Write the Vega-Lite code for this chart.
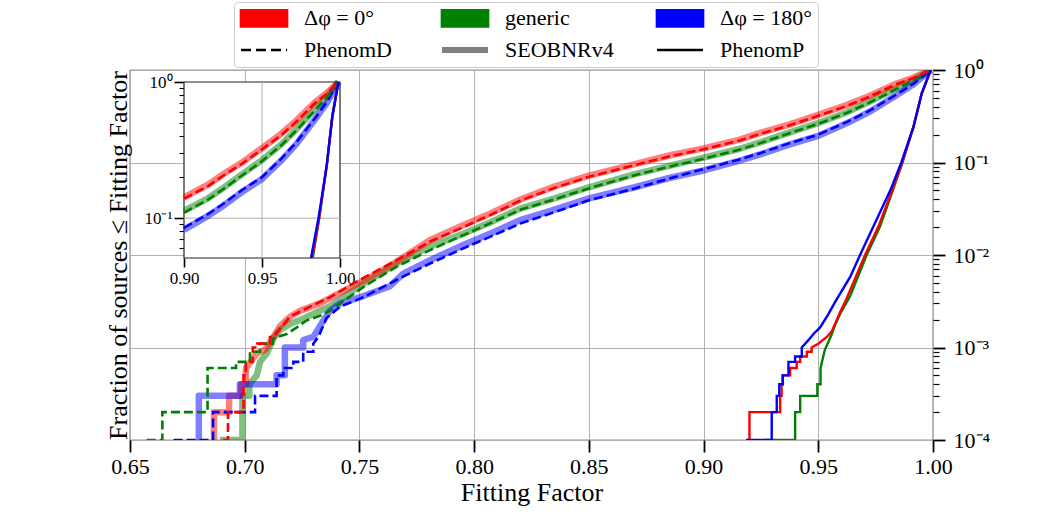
{
  "$schema": "https://vega.github.io/schema/vega-lite/v6.json",
  "width": 803,
  "height": 370,
  "autosize": "none",
  "padding": {"left": 130, "top": 70, "right": 105, "bottom": 79},
  "config": {
    "font": "Liberation Serif",
    "view": {"stroke": "#222222", "strokeWidth": 1.2},
    "axis": {"labelFont": "Liberation Serif", "titleFont": "Liberation Serif", "labelColor": "#000000", "titleColor": "#000000", "tickColor": "#000000", "titleFontWeight": "normal"},
    "legend": {"labelFont": "Liberation Serif"}
  },
  "datasets": {
    "curves": [
      {"c":"generic","m":"SEOBNRv4","i":0,"ff":0.6892,"f":0.0001},
      {"c":"generic","m":"SEOBNRv4","i":1,"ff":0.699,"f":0.0001},
      {"c":"generic","m":"SEOBNRv4","i":2,"ff":0.699,"f":0.0003},
      {"c":"generic","m":"SEOBNRv4","i":3,"ff":0.702,"f":0.0003},
      {"c":"generic","m":"SEOBNRv4","i":4,"ff":0.702,"f":0.0004},
      {"c":"generic","m":"SEOBNRv4","i":5,"ff":0.7052,"f":0.0005},
      {"c":"generic","m":"SEOBNRv4","i":6,"ff":0.7067,"f":0.0007},
      {"c":"generic","m":"SEOBNRv4","i":7,"ff":0.7096,"f":0.00086},
      {"c":"generic","m":"SEOBNRv4","i":8,"ff":0.7125,"f":0.00125},
      {"c":"generic","m":"SEOBNRv4","i":9,"ff":0.7154,"f":0.00155},
      {"c":"generic","m":"SEOBNRv4","i":10,"ff":0.7197,"f":0.0018},
      {"c":"generic","m":"SEOBNRv4","i":11,"ff":0.7255,"f":0.00205},
      {"c":"generic","m":"SEOBNRv4","i":12,"ff":0.7328,"f":0.0025},
      {"c":"generic","m":"SEOBNRv4","i":13,"ff":0.7372,"f":0.0028},
      {"c":"generic","m":"SEOBNRv4","i":14,"ff":0.7517,"f":0.0049},
      {"c":"generic","m":"SEOBNRv4","i":15,"ff":0.7663,"f":0.0081},
      {"c":"generic","m":"SEOBNRv4","i":16,"ff":0.7808,"f":0.0124},
      {"c":"generic","m":"SEOBNRv4","i":17,"ff":0.7953,"f":0.017},
      {"c":"generic","m":"SEOBNRv4","i":18,"ff":0.8069,"f":0.0225},
      {"c":"generic","m":"SEOBNRv4","i":19,"ff":0.8204,"f":0.032},
      {"c":"generic","m":"SEOBNRv4","i":20,"ff":0.835,"f":0.041},
      {"c":"generic","m":"SEOBNRv4","i":21,"ff":0.85,"f":0.054},
      {"c":"generic","m":"SEOBNRv4","i":22,"ff":0.87,"f":0.075},
      {"c":"generic","m":"SEOBNRv4","i":23,"ff":0.885,"f":0.092},
      {"c":"generic","m":"SEOBNRv4","i":24,"ff":0.9,"f":0.113},
      {"c":"generic","m":"SEOBNRv4","i":25,"ff":0.9154,"f":0.14},
      {"c":"generic","m":"SEOBNRv4","i":26,"ff":0.925,"f":0.166},
      {"c":"generic","m":"SEOBNRv4","i":27,"ff":0.9369,"f":0.209},
      {"c":"generic","m":"SEOBNRv4","i":28,"ff":0.95,"f":0.267},
      {"c":"generic","m":"SEOBNRv4","i":29,"ff":0.9626,"f":0.35},
      {"c":"generic","m":"SEOBNRv4","i":30,"ff":0.972,"f":0.45},
      {"c":"generic","m":"SEOBNRv4","i":31,"ff":0.9839,"f":0.63},
      {"c":"generic","m":"SEOBNRv4","i":32,"ff":0.9915,"f":0.78},
      {"c":"generic","m":"SEOBNRv4","i":33,"ff":0.999,"f":1},

      {"c":"Δφ = 0°","m":"SEOBNRv4","i":0,"ff":0.6855,"f":0.0001},
      {"c":"Δφ = 0°","m":"SEOBNRv4","i":1,"ff":0.6866,"f":0.0001},
      {"c":"Δφ = 0°","m":"SEOBNRv4","i":2,"ff":0.6866,"f":0.0002},
      {"c":"Δφ = 0°","m":"SEOBNRv4","i":3,"ff":0.6932,"f":0.0002},
      {"c":"Δφ = 0°","m":"SEOBNRv4","i":4,"ff":0.6932,"f":0.0003},
      {"c":"Δφ = 0°","m":"SEOBNRv4","i":5,"ff":0.6985,"f":0.0003},
      {"c":"Δφ = 0°","m":"SEOBNRv4","i":6,"ff":0.6985,"f":0.0004},
      {"c":"Δφ = 0°","m":"SEOBNRv4","i":7,"ff":0.7005,"f":0.0004},
      {"c":"Δφ = 0°","m":"SEOBNRv4","i":8,"ff":0.7005,"f":0.0006},
      {"c":"Δφ = 0°","m":"SEOBNRv4","i":9,"ff":0.7025,"f":0.0007},
      {"c":"Δφ = 0°","m":"SEOBNRv4","i":10,"ff":0.7052,"f":0.00086},
      {"c":"Δφ = 0°","m":"SEOBNRv4","i":11,"ff":0.709,"f":0.00095},
      {"c":"Δφ = 0°","m":"SEOBNRv4","i":12,"ff":0.7125,"f":0.0013},
      {"c":"Δφ = 0°","m":"SEOBNRv4","i":13,"ff":0.7154,"f":0.0017},
      {"c":"Δφ = 0°","m":"SEOBNRv4","i":14,"ff":0.7197,"f":0.00215},
      {"c":"Δφ = 0°","m":"SEOBNRv4","i":15,"ff":0.7241,"f":0.0025},
      {"c":"Δφ = 0°","m":"SEOBNRv4","i":16,"ff":0.7328,"f":0.003},
      {"c":"Δφ = 0°","m":"SEOBNRv4","i":17,"ff":0.7415,"f":0.0039},
      {"c":"Δφ = 0°","m":"SEOBNRv4","i":18,"ff":0.7532,"f":0.0055},
      {"c":"Δφ = 0°","m":"SEOBNRv4","i":19,"ff":0.7633,"f":0.0076},
      {"c":"Δφ = 0°","m":"SEOBNRv4","i":20,"ff":0.7808,"f":0.0145},
      {"c":"Δφ = 0°","m":"SEOBNRv4","i":21,"ff":0.7952,"f":0.021},
      {"c":"Δφ = 0°","m":"SEOBNRv4","i":22,"ff":0.8069,"f":0.028},
      {"c":"Δφ = 0°","m":"SEOBNRv4","i":23,"ff":0.8204,"f":0.04},
      {"c":"Δφ = 0°","m":"SEOBNRv4","i":24,"ff":0.835,"f":0.055},
      {"c":"Δφ = 0°","m":"SEOBNRv4","i":25,"ff":0.85,"f":0.072},
      {"c":"Δφ = 0°","m":"SEOBNRv4","i":26,"ff":0.87,"f":0.096},
      {"c":"Δφ = 0°","m":"SEOBNRv4","i":27,"ff":0.885,"f":0.119},
      {"c":"Δφ = 0°","m":"SEOBNRv4","i":28,"ff":0.9,"f":0.142},
      {"c":"Δφ = 0°","m":"SEOBNRv4","i":29,"ff":0.9154,"f":0.176},
      {"c":"Δφ = 0°","m":"SEOBNRv4","i":30,"ff":0.925,"f":0.21},
      {"c":"Δφ = 0°","m":"SEOBNRv4","i":31,"ff":0.9369,"f":0.255},
      {"c":"Δφ = 0°","m":"SEOBNRv4","i":32,"ff":0.95,"f":0.327},
      {"c":"Δφ = 0°","m":"SEOBNRv4","i":33,"ff":0.9626,"f":0.42},
      {"c":"Δφ = 0°","m":"SEOBNRv4","i":34,"ff":0.972,"f":0.52},
      {"c":"Δφ = 0°","m":"SEOBNRv4","i":35,"ff":0.9839,"f":0.71},
      {"c":"Δφ = 0°","m":"SEOBNRv4","i":36,"ff":0.9915,"f":0.83},
      {"c":"Δφ = 0°","m":"SEOBNRv4","i":37,"ff":0.999,"f":1},

      {"c":"Δφ = 180°","m":"SEOBNRv4","i":0,"ff":0.6795,"f":0.0001},
      {"c":"Δφ = 180°","m":"SEOBNRv4","i":1,"ff":0.68,"f":0.0001},
      {"c":"Δφ = 180°","m":"SEOBNRv4","i":2,"ff":0.68,"f":0.0003},
      {"c":"Δφ = 180°","m":"SEOBNRv4","i":3,"ff":0.6979,"f":0.0003},
      {"c":"Δφ = 180°","m":"SEOBNRv4","i":4,"ff":0.6979,"f":0.0004},
      {"c":"Δφ = 180°","m":"SEOBNRv4","i":5,"ff":0.7139,"f":0.0004},
      {"c":"Δφ = 180°","m":"SEOBNRv4","i":6,"ff":0.7139,"f":0.0005},
      {"c":"Δφ = 180°","m":"SEOBNRv4","i":7,"ff":0.7175,"f":0.0005},
      {"c":"Δφ = 180°","m":"SEOBNRv4","i":8,"ff":0.7175,"f":0.001},
      {"c":"Δφ = 180°","m":"SEOBNRv4","i":9,"ff":0.7255,"f":0.001},
      {"c":"Δφ = 180°","m":"SEOBNRv4","i":10,"ff":0.7255,"f":0.0012},
      {"c":"Δφ = 180°","m":"SEOBNRv4","i":11,"ff":0.7299,"f":0.0013},
      {"c":"Δφ = 180°","m":"SEOBNRv4","i":12,"ff":0.7343,"f":0.00196},
      {"c":"Δφ = 180°","m":"SEOBNRv4","i":13,"ff":0.7372,"f":0.0025},
      {"c":"Δφ = 180°","m":"SEOBNRv4","i":14,"ff":0.7415,"f":0.00298},
      {"c":"Δφ = 180°","m":"SEOBNRv4","i":15,"ff":0.7517,"f":0.0036},
      {"c":"Δφ = 180°","m":"SEOBNRv4","i":16,"ff":0.7633,"f":0.0046},
      {"c":"Δφ = 180°","m":"SEOBNRv4","i":17,"ff":0.7691,"f":0.0063},
      {"c":"Δφ = 180°","m":"SEOBNRv4","i":18,"ff":0.7808,"f":0.0088},
      {"c":"Δφ = 180°","m":"SEOBNRv4","i":19,"ff":0.7953,"f":0.0128},
      {"c":"Δφ = 180°","m":"SEOBNRv4","i":20,"ff":0.8069,"f":0.017},
      {"c":"Δφ = 180°","m":"SEOBNRv4","i":21,"ff":0.8204,"f":0.024},
      {"c":"Δφ = 180°","m":"SEOBNRv4","i":22,"ff":0.835,"f":0.031},
      {"c":"Δφ = 180°","m":"SEOBNRv4","i":23,"ff":0.85,"f":0.041},
      {"c":"Δφ = 180°","m":"SEOBNRv4","i":24,"ff":0.87,"f":0.054},
      {"c":"Δφ = 180°","m":"SEOBNRv4","i":25,"ff":0.885,"f":0.068},
      {"c":"Δφ = 180°","m":"SEOBNRv4","i":26,"ff":0.9,"f":0.082},
      {"c":"Δφ = 180°","m":"SEOBNRv4","i":27,"ff":0.9154,"f":0.104},
      {"c":"Δφ = 180°","m":"SEOBNRv4","i":28,"ff":0.925,"f":0.123},
      {"c":"Δφ = 180°","m":"SEOBNRv4","i":29,"ff":0.9369,"f":0.155},
      {"c":"Δφ = 180°","m":"SEOBNRv4","i":30,"ff":0.95,"f":0.194},
      {"c":"Δφ = 180°","m":"SEOBNRv4","i":31,"ff":0.9626,"f":0.267},
      {"c":"Δφ = 180°","m":"SEOBNRv4","i":32,"ff":0.972,"f":0.35},
      {"c":"Δφ = 180°","m":"SEOBNRv4","i":33,"ff":0.9839,"f":0.53},
      {"c":"Δφ = 180°","m":"SEOBNRv4","i":34,"ff":0.9915,"f":0.7},
      {"c":"Δφ = 180°","m":"SEOBNRv4","i":35,"ff":0.999,"f":1},

      {"c":"Δφ = 180°","m":"PhenomD","i":0,"ff":0.669,"f":0.0001},
      {"c":"Δφ = 180°","m":"PhenomD","i":1,"ff":0.6862,"f":0.0001},
      {"c":"Δφ = 180°","m":"PhenomD","i":2,"ff":0.6862,"f":0.0002},
      {"c":"Δφ = 180°","m":"PhenomD","i":3,"ff":0.7045,"f":0.0002},
      {"c":"Δφ = 180°","m":"PhenomD","i":4,"ff":0.7045,"f":0.0003},
      {"c":"Δφ = 180°","m":"PhenomD","i":5,"ff":0.7139,"f":0.0003},
      {"c":"Δφ = 180°","m":"PhenomD","i":6,"ff":0.7139,"f":0.0005},
      {"c":"Δφ = 180°","m":"PhenomD","i":7,"ff":0.7168,"f":0.0005},
      {"c":"Δφ = 180°","m":"PhenomD","i":8,"ff":0.7168,"f":0.0006},
      {"c":"Δφ = 180°","m":"PhenomD","i":9,"ff":0.7212,"f":0.0006},
      {"c":"Δφ = 180°","m":"PhenomD","i":10,"ff":0.7212,"f":0.0007},
      {"c":"Δφ = 180°","m":"PhenomD","i":11,"ff":0.7255,"f":0.0007},
      {"c":"Δφ = 180°","m":"PhenomD","i":12,"ff":0.7255,"f":0.0009},
      {"c":"Δφ = 180°","m":"PhenomD","i":13,"ff":0.7299,"f":0.0009},
      {"c":"Δφ = 180°","m":"PhenomD","i":14,"ff":0.7299,"f":0.0011},
      {"c":"Δφ = 180°","m":"PhenomD","i":15,"ff":0.7321,"f":0.0013},
      {"c":"Δφ = 180°","m":"PhenomD","i":16,"ff":0.7357,"f":0.0021},
      {"c":"Δφ = 180°","m":"PhenomD","i":17,"ff":0.7415,"f":0.00275},
      {"c":"Δφ = 180°","m":"PhenomD","i":18,"ff":0.7517,"f":0.0035},
      {"c":"Δφ = 180°","m":"PhenomD","i":19,"ff":0.7663,"f":0.0054},
      {"c":"Δφ = 180°","m":"PhenomD","i":20,"ff":0.7808,"f":0.0081},
      {"c":"Δφ = 180°","m":"PhenomD","i":21,"ff":0.7953,"f":0.0118},
      {"c":"Δφ = 180°","m":"PhenomD","i":22,"ff":0.8069,"f":0.0157},
      {"c":"Δφ = 180°","m":"PhenomD","i":23,"ff":0.8204,"f":0.022},
      {"c":"Δφ = 180°","m":"PhenomD","i":24,"ff":0.835,"f":0.029},
      {"c":"Δφ = 180°","m":"PhenomD","i":25,"ff":0.85,"f":0.039},
      {"c":"Δφ = 180°","m":"PhenomD","i":26,"ff":0.87,"f":0.0525},
      {"c":"Δφ = 180°","m":"PhenomD","i":27,"ff":0.885,"f":0.067},
      {"c":"Δφ = 180°","m":"PhenomD","i":28,"ff":0.9,"f":0.085},
      {"c":"Δφ = 180°","m":"PhenomD","i":29,"ff":0.9154,"f":0.107},
      {"c":"Δφ = 180°","m":"PhenomD","i":30,"ff":0.925,"f":0.127},
      {"c":"Δφ = 180°","m":"PhenomD","i":31,"ff":0.9369,"f":0.16},
      {"c":"Δφ = 180°","m":"PhenomD","i":32,"ff":0.95,"f":0.2},
      {"c":"Δφ = 180°","m":"PhenomD","i":33,"ff":0.9626,"f":0.275},
      {"c":"Δφ = 180°","m":"PhenomD","i":34,"ff":0.972,"f":0.36},
      {"c":"Δφ = 180°","m":"PhenomD","i":35,"ff":0.9839,"f":0.54},
      {"c":"Δφ = 180°","m":"PhenomD","i":36,"ff":0.9915,"f":0.71},
      {"c":"Δφ = 180°","m":"PhenomD","i":37,"ff":0.999,"f":1},

      {"c":"generic","m":"PhenomD","i":0,"ff":0.6573,"f":0.0001},
      {"c":"generic","m":"PhenomD","i":1,"ff":0.6641,"f":0.0001},
      {"c":"generic","m":"PhenomD","i":2,"ff":0.6641,"f":0.0002},
      {"c":"generic","m":"PhenomD","i":3,"ff":0.6838,"f":0.0002},
      {"c":"generic","m":"PhenomD","i":4,"ff":0.6838,"f":0.0006},
      {"c":"generic","m":"PhenomD","i":5,"ff":0.6962,"f":0.0006},
      {"c":"generic","m":"PhenomD","i":6,"ff":0.6962,"f":0.0007},
      {"c":"generic","m":"PhenomD","i":7,"ff":0.7023,"f":0.0007},
      {"c":"generic","m":"PhenomD","i":8,"ff":0.7023,"f":0.0009},
      {"c":"generic","m":"PhenomD","i":9,"ff":0.7067,"f":0.0009},
      {"c":"generic","m":"PhenomD","i":10,"ff":0.7067,"f":0.0011},
      {"c":"generic","m":"PhenomD","i":11,"ff":0.7123,"f":0.0011},
      {"c":"generic","m":"PhenomD","i":12,"ff":0.7123,"f":0.00125},
      {"c":"generic","m":"PhenomD","i":13,"ff":0.7183,"f":0.0014},
      {"c":"generic","m":"PhenomD","i":14,"ff":0.7227,"f":0.00165},
      {"c":"generic","m":"PhenomD","i":15,"ff":0.727,"f":0.00196},
      {"c":"generic","m":"PhenomD","i":16,"ff":0.7328,"f":0.0022},
      {"c":"generic","m":"PhenomD","i":17,"ff":0.7372,"f":0.0025},
      {"c":"generic","m":"PhenomD","i":18,"ff":0.7517,"f":0.0045},
      {"c":"generic","m":"PhenomD","i":19,"ff":0.7663,"f":0.0075},
      {"c":"generic","m":"PhenomD","i":20,"ff":0.7808,"f":0.0113},
      {"c":"generic","m":"PhenomD","i":21,"ff":0.7953,"f":0.0164},
      {"c":"generic","m":"PhenomD","i":22,"ff":0.8069,"f":0.022},
      {"c":"generic","m":"PhenomD","i":23,"ff":0.8204,"f":0.031},
      {"c":"generic","m":"PhenomD","i":24,"ff":0.835,"f":0.04},
      {"c":"generic","m":"PhenomD","i":25,"ff":0.85,"f":0.0525},
      {"c":"generic","m":"PhenomD","i":26,"ff":0.87,"f":0.073},
      {"c":"generic","m":"PhenomD","i":27,"ff":0.885,"f":0.09},
      {"c":"generic","m":"PhenomD","i":28,"ff":0.9,"f":0.11},
      {"c":"generic","m":"PhenomD","i":29,"ff":0.9154,"f":0.137},
      {"c":"generic","m":"PhenomD","i":30,"ff":0.925,"f":0.163},
      {"c":"generic","m":"PhenomD","i":31,"ff":0.9369,"f":0.205},
      {"c":"generic","m":"PhenomD","i":32,"ff":0.95,"f":0.262},
      {"c":"generic","m":"PhenomD","i":33,"ff":0.9626,"f":0.345},
      {"c":"generic","m":"PhenomD","i":34,"ff":0.972,"f":0.44},
      {"c":"generic","m":"PhenomD","i":35,"ff":0.9839,"f":0.62},
      {"c":"generic","m":"PhenomD","i":36,"ff":0.9915,"f":0.77},
      {"c":"generic","m":"PhenomD","i":37,"ff":0.999,"f":1},

      {"c":"Δφ = 0°","m":"PhenomD","i":0,"ff":0.6905,"f":0.0001},
      {"c":"Δφ = 0°","m":"PhenomD","i":1,"ff":0.6927,"f":0.0001},
      {"c":"Δφ = 0°","m":"PhenomD","i":2,"ff":0.6927,"f":0.0002},
      {"c":"Δφ = 0°","m":"PhenomD","i":3,"ff":0.6995,"f":0.0002},
      {"c":"Δφ = 0°","m":"PhenomD","i":4,"ff":0.6995,"f":0.0005},
      {"c":"Δφ = 0°","m":"PhenomD","i":5,"ff":0.7005,"f":0.0005},
      {"c":"Δφ = 0°","m":"PhenomD","i":6,"ff":0.7005,"f":0.0007},
      {"c":"Δφ = 0°","m":"PhenomD","i":7,"ff":0.7035,"f":0.0007},
      {"c":"Δφ = 0°","m":"PhenomD","i":8,"ff":0.7035,"f":0.001},
      {"c":"Δφ = 0°","m":"PhenomD","i":9,"ff":0.7055,"f":0.001},
      {"c":"Δφ = 0°","m":"PhenomD","i":10,"ff":0.7055,"f":0.0011},
      {"c":"Δφ = 0°","m":"PhenomD","i":11,"ff":0.711,"f":0.0011},
      {"c":"Δφ = 0°","m":"PhenomD","i":12,"ff":0.711,"f":0.0013},
      {"c":"Δφ = 0°","m":"PhenomD","i":13,"ff":0.7124,"f":0.0013},
      {"c":"Δφ = 0°","m":"PhenomD","i":14,"ff":0.7197,"f":0.00215},
      {"c":"Δφ = 0°","m":"PhenomD","i":15,"ff":0.7248,"f":0.0025},
      {"c":"Δφ = 0°","m":"PhenomD","i":16,"ff":0.7372,"f":0.0035},
      {"c":"Δφ = 0°","m":"PhenomD","i":17,"ff":0.7503,"f":0.0054},
      {"c":"Δφ = 0°","m":"PhenomD","i":18,"ff":0.7663,"f":0.0088},
      {"c":"Δφ = 0°","m":"PhenomD","i":19,"ff":0.7808,"f":0.014},
      {"c":"Δφ = 0°","m":"PhenomD","i":20,"ff":0.7952,"f":0.02},
      {"c":"Δφ = 0°","m":"PhenomD","i":21,"ff":0.8069,"f":0.027},
      {"c":"Δφ = 0°","m":"PhenomD","i":22,"ff":0.8204,"f":0.039},
      {"c":"Δφ = 0°","m":"PhenomD","i":23,"ff":0.835,"f":0.053},
      {"c":"Δφ = 0°","m":"PhenomD","i":24,"ff":0.85,"f":0.07},
      {"c":"Δφ = 0°","m":"PhenomD","i":25,"ff":0.87,"f":0.094},
      {"c":"Δφ = 0°","m":"PhenomD","i":26,"ff":0.885,"f":0.116},
      {"c":"Δφ = 0°","m":"PhenomD","i":27,"ff":0.9,"f":0.139},
      {"c":"Δφ = 0°","m":"PhenomD","i":28,"ff":0.9154,"f":0.172},
      {"c":"Δφ = 0°","m":"PhenomD","i":29,"ff":0.925,"f":0.205},
      {"c":"Δφ = 0°","m":"PhenomD","i":30,"ff":0.9369,"f":0.25},
      {"c":"Δφ = 0°","m":"PhenomD","i":31,"ff":0.95,"f":0.32},
      {"c":"Δφ = 0°","m":"PhenomD","i":32,"ff":0.9626,"f":0.41},
      {"c":"Δφ = 0°","m":"PhenomD","i":33,"ff":0.972,"f":0.51},
      {"c":"Δφ = 0°","m":"PhenomD","i":34,"ff":0.9839,"f":0.7},
      {"c":"Δφ = 0°","m":"PhenomD","i":35,"ff":0.9915,"f":0.82},
      {"c":"Δφ = 0°","m":"PhenomD","i":36,"ff":0.999,"f":1},

      {"c":"generic","m":"PhenomP","i":0,"ff":0.9265,"f":0.0001},
      {"c":"generic","m":"PhenomP","i":1,"ff":0.9399,"f":0.0001},
      {"c":"generic","m":"PhenomP","i":2,"ff":0.9399,"f":0.0002},
      {"c":"generic","m":"PhenomP","i":3,"ff":0.9421,"f":0.0002},
      {"c":"generic","m":"PhenomP","i":4,"ff":0.9421,"f":0.0003},
      {"c":"generic","m":"PhenomP","i":5,"ff":0.9496,"f":0.0003},
      {"c":"generic","m":"PhenomP","i":6,"ff":0.9496,"f":0.0004},
      {"c":"generic","m":"PhenomP","i":7,"ff":0.951,"f":0.0004},
      {"c":"generic","m":"PhenomP","i":8,"ff":0.951,"f":0.0006},
      {"c":"generic","m":"PhenomP","i":9,"ff":0.9519,"f":0.00075},
      {"c":"generic","m":"PhenomP","i":10,"ff":0.9529,"f":0.00095},
      {"c":"generic","m":"PhenomP","i":11,"ff":0.9544,"f":0.00115},
      {"c":"generic","m":"PhenomP","i":12,"ff":0.9559,"f":0.0014},
      {"c":"generic","m":"PhenomP","i":13,"ff":0.9573,"f":0.00175},
      {"c":"generic","m":"PhenomP","i":14,"ff":0.9595,"f":0.0023},
      {"c":"generic","m":"PhenomP","i":15,"ff":0.9624,"f":0.0031},
      {"c":"generic","m":"PhenomP","i":16,"ff":0.9639,"f":0.0036},
      {"c":"generic","m":"PhenomP","i":17,"ff":0.9711,"f":0.01},
      {"c":"generic","m":"PhenomP","i":18,"ff":0.9769,"f":0.0203},
      {"c":"generic","m":"PhenomP","i":19,"ff":0.9825,"f":0.05},
      {"c":"generic","m":"PhenomP","i":20,"ff":0.9867,"f":0.1},
      {"c":"generic","m":"PhenomP","i":21,"ff":0.9915,"f":0.244},
      {"c":"generic","m":"PhenomP","i":22,"ff":0.9951,"f":0.56},
      {"c":"generic","m":"PhenomP","i":23,"ff":0.999,"f":1},

      {"c":"Δφ = 0°","m":"PhenomP","i":0,"ff":0.9193,"f":0.0001},
      {"c":"Δφ = 0°","m":"PhenomP","i":1,"ff":0.92,"f":0.0001},
      {"c":"Δφ = 0°","m":"PhenomP","i":2,"ff":0.92,"f":0.0002},
      {"c":"Δφ = 0°","m":"PhenomP","i":3,"ff":0.9334,"f":0.0002},
      {"c":"Δφ = 0°","m":"PhenomP","i":4,"ff":0.9334,"f":0.0003},
      {"c":"Δφ = 0°","m":"PhenomP","i":5,"ff":0.934,"f":0.0003},
      {"c":"Δφ = 0°","m":"PhenomP","i":6,"ff":0.934,"f":0.0004},
      {"c":"Δφ = 0°","m":"PhenomP","i":7,"ff":0.9345,"f":0.0004},
      {"c":"Δφ = 0°","m":"PhenomP","i":8,"ff":0.9345,"f":0.0005},
      {"c":"Δφ = 0°","m":"PhenomP","i":9,"ff":0.9377,"f":0.0005},
      {"c":"Δφ = 0°","m":"PhenomP","i":10,"ff":0.9377,"f":0.0006},
      {"c":"Δφ = 0°","m":"PhenomP","i":11,"ff":0.9406,"f":0.0006},
      {"c":"Δφ = 0°","m":"PhenomP","i":12,"ff":0.9406,"f":0.0007},
      {"c":"Δφ = 0°","m":"PhenomP","i":13,"ff":0.9421,"f":0.0007},
      {"c":"Δφ = 0°","m":"PhenomP","i":14,"ff":0.9421,"f":0.0008},
      {"c":"Δφ = 0°","m":"PhenomP","i":15,"ff":0.945,"f":0.0008},
      {"c":"Δφ = 0°","m":"PhenomP","i":16,"ff":0.945,"f":0.0009},
      {"c":"Δφ = 0°","m":"PhenomP","i":17,"ff":0.9471,"f":0.0009},
      {"c":"Δφ = 0°","m":"PhenomP","i":18,"ff":0.9471,"f":0.001},
      {"c":"Δφ = 0°","m":"PhenomP","i":19,"ff":0.95,"f":0.0011},
      {"c":"Δφ = 0°","m":"PhenomP","i":20,"ff":0.9537,"f":0.0013},
      {"c":"Δφ = 0°","m":"PhenomP","i":21,"ff":0.9559,"f":0.0015},
      {"c":"Δφ = 0°","m":"PhenomP","i":22,"ff":0.9573,"f":0.0018},
      {"c":"Δφ = 0°","m":"PhenomP","i":23,"ff":0.9595,"f":0.0024},
      {"c":"Δφ = 0°","m":"PhenomP","i":24,"ff":0.9624,"f":0.0034},
      {"c":"Δφ = 0°","m":"PhenomP","i":25,"ff":0.9704,"f":0.01},
      {"c":"Δφ = 0°","m":"PhenomP","i":26,"ff":0.9762,"f":0.0203},
      {"c":"Δφ = 0°","m":"PhenomP","i":27,"ff":0.9822,"f":0.05},
      {"c":"Δφ = 0°","m":"PhenomP","i":28,"ff":0.9866,"f":0.1},
      {"c":"Δφ = 0°","m":"PhenomP","i":29,"ff":0.9915,"f":0.244},
      {"c":"Δφ = 0°","m":"PhenomP","i":30,"ff":0.9951,"f":0.56},
      {"c":"Δφ = 0°","m":"PhenomP","i":31,"ff":0.999,"f":1},

      {"c":"Δφ = 180°","m":"PhenomP","i":0,"ff":0.9185,"f":0.0001},
      {"c":"Δφ = 180°","m":"PhenomP","i":1,"ff":0.9297,"f":0.0001},
      {"c":"Δφ = 180°","m":"PhenomP","i":2,"ff":0.9297,"f":0.0002},
      {"c":"Δφ = 180°","m":"PhenomP","i":3,"ff":0.9319,"f":0.0002},
      {"c":"Δφ = 180°","m":"PhenomP","i":4,"ff":0.9319,"f":0.0003},
      {"c":"Δφ = 180°","m":"PhenomP","i":5,"ff":0.933,"f":0.0003},
      {"c":"Δφ = 180°","m":"PhenomP","i":6,"ff":0.933,"f":0.0004},
      {"c":"Δφ = 180°","m":"PhenomP","i":7,"ff":0.9345,"f":0.0004},
      {"c":"Δφ = 180°","m":"PhenomP","i":8,"ff":0.9345,"f":0.0005},
      {"c":"Δφ = 180°","m":"PhenomP","i":9,"ff":0.937,"f":0.0005},
      {"c":"Δφ = 180°","m":"PhenomP","i":10,"ff":0.937,"f":0.0007},
      {"c":"Δφ = 180°","m":"PhenomP","i":11,"ff":0.9399,"f":0.0007},
      {"c":"Δφ = 180°","m":"PhenomP","i":12,"ff":0.9399,"f":0.0008},
      {"c":"Δφ = 180°","m":"PhenomP","i":13,"ff":0.9428,"f":0.0008},
      {"c":"Δφ = 180°","m":"PhenomP","i":14,"ff":0.9428,"f":0.001},
      {"c":"Δφ = 180°","m":"PhenomP","i":15,"ff":0.9457,"f":0.0012},
      {"c":"Δφ = 180°","m":"PhenomP","i":16,"ff":0.9479,"f":0.0014},
      {"c":"Δφ = 180°","m":"PhenomP","i":17,"ff":0.9508,"f":0.00165},
      {"c":"Δφ = 180°","m":"PhenomP","i":18,"ff":0.9544,"f":0.0023},
      {"c":"Δφ = 180°","m":"PhenomP","i":19,"ff":0.9573,"f":0.0031},
      {"c":"Δφ = 180°","m":"PhenomP","i":20,"ff":0.9639,"f":0.0058},
      {"c":"Δφ = 180°","m":"PhenomP","i":21,"ff":0.9682,"f":0.01},
      {"c":"Δφ = 180°","m":"PhenomP","i":22,"ff":0.974,"f":0.0203},
      {"c":"Δφ = 180°","m":"PhenomP","i":23,"ff":0.9814,"f":0.05},
      {"c":"Δφ = 180°","m":"PhenomP","i":24,"ff":0.9862,"f":0.1},
      {"c":"Δφ = 180°","m":"PhenomP","i":25,"ff":0.9915,"f":0.244},
      {"c":"Δφ = 180°","m":"PhenomP","i":26,"ff":0.9951,"f":0.56},
      {"c":"Δφ = 180°","m":"PhenomP","i":27,"ff":0.999,"f":1}
    ]
  },
  "data": {"name": "curves"},
  "layer": [
    {
      "encoding": {
        "x": {
          "field": "ff", "type": "quantitative",
          "scale": {"domain": [0.65, 1], "nice": false, "zero": false},
          "axis": {
            "orient": "bottom",
            "values": [0.65, 0.7, 0.75, 0.8, 0.85, 0.9, 0.95, 1],
            "format": ".2f",
            "labelFontSize": 22, "labelFlush": false, "labelPadding": 4,
            "tickSize": 12, "tickWidth": 1.8,
            "domain": false,
            "grid": true, "gridColor": "#b0b0b0", "gridWidth": 1,
            "title": "Fitting Factor", "titleFontSize": 26, "titlePadding": 2
          }
        },
        "y": {
          "field": "f", "type": "quantitative",
          "scale": {"type": "log", "domain": [0.0001, 1], "nice": false},
          "axis": {
            "orient": "right",
            "values": [0.0001, 0.001, 0.01, 0.1, 1],
            "labelExpr": "datum.value === 1 ? '10⁰' : datum.value === 0.1 ? '10⁻¹' : datum.value === 0.01 ? '10⁻²' : datum.value === 0.001 ? '10⁻³' : '10⁻⁴'",
            "labelOverlap": false, "labelFontSize": 22, "labelPadding": 8, "labelFlush": false,
            "tickSize": 12, "tickWidth": 1.8,
            "domain": false,
            "grid": true, "gridColor": "#b0b0b0", "gridWidth": 1,
            "title": "Fraction of sources ≤ Fitting Factor",
            "titleFontSize": 26, "titleAngle": 270, "titleX": -815, "titleY": 185,
            "titleAlign": "center", "titleBaseline": "middle"
          }
        },
        "color": {
          "field": "c", "type": "nominal",
          "scale": {
            "domain": ["Δφ = 0°", "generic", "Δφ = 180°", "PhenomD", "SEOBNRv4", "PhenomP"],
            "range": ["#ff0000", "#008000", "#0000ff", "#000000", "#808080", "#000000"]
          },
          "legend": {
            "title": null, "orient": "none", "legendX": 104, "legendY": -68,
            "direction": "horizontal", "columns": 3, "gridAlign": "each",
            "columnPadding": 37, "rowPadding": 6, "padding": 5,
            "strokeColor": "#cccccc", "fillColor": "#ffffff", "cornerRadius": 4,
            "labelFontSize": 22, "labelColor": "#000000", "labelOffset": 29, "labelLimit": 300,
            "symbolSize": 576, "symbolOffset": 14, "symbolStrokeWidth": 1.5,
            "encode": {
              "symbols": {"update": {
                "shape": {"signal": "indexof(['PhenomD','SEOBNRv4','PhenomP'], datum.value) < 0 ? 'M-1.92,-0.67H1.92V0.67H-1.92Z' : 'M-1.92,0H1.92'"},
                "fill": {"signal": "indexof(['PhenomD','SEOBNRv4','PhenomP'], datum.value) < 0 ? scale('color', datum.value) : 'transparent'"},
                "stroke": {"signal": "indexof(['PhenomD','SEOBNRv4','PhenomP'], datum.value) < 0 ? 'transparent' : scale('color', datum.value)"},
                "strokeWidth": {"signal": "datum.value === 'SEOBNRv4' ? 6 : 2.6"},
                "strokeDash": {"signal": "datum.value === 'PhenomD' ? [10,5] : [1,0]"},
                "opacity": {"value": 1}
              }}
            }
          }
        },
        "order": {"field": "i", "type": "quantitative"}
      },
      "layer": [
        {"transform": [{"filter": "datum.m === 'SEOBNRv4'"}], "mark": {"type": "line", "strokeWidth": 6.5, "opacity": 0.5, "clip": true, "strokeJoin": "round"}},
        {"transform": [{"filter": "datum.m === 'PhenomD'"}], "mark": {"type": "line", "strokeWidth": 2.6, "strokeDash": [9, 4], "clip": true}},
        {"transform": [{"filter": "datum.m === 'PhenomP'"}], "mark": {"type": "line", "strokeWidth": 2.4, "clip": true}}
      ]
    },
    {
      "data": {"values": [{}]},
      "mark": {"type": "rule", "opacity": 0},
      "encoding": {
        "y": {
          "datum": 0.5, "type": "quantitative",
          "scale": {"type": "log", "domain": [0.0001, 1], "nice": false},
          "axis": {
            "orient": "right",
            "values": [0.0002,0.0003,0.0004,0.0005,0.0006,0.0007,0.0008,0.0009,0.002,0.003,0.004,0.005,0.006,0.007,0.008,0.009,0.02,0.03,0.04,0.05,0.06,0.07,0.08,0.09,0.2,0.3,0.4,0.5,0.6,0.7,0.8,0.9],
            "labels": false, "tickSize": 6, "tickWidth": 1.2,
            "domain": false, "grid": false, "title": null
          }
        }
      }
    },
    {
      "layer": [
        {
          "data": {"values": [{}]},
          "mark": {"type": "rect", "fill": "#ffffff", "stroke": "#222222", "strokeWidth": 1.2},
          "encoding": {
            "x": {
              "datum": 0.9, "type": "quantitative",
              "scale": {"domain": [0.9, 1], "range": [54, 210], "nice": false, "zero": false},
              "axis": {
                "orient": "bottom", "offset": -182,
                "values": [0.9, 0.95, 1], "format": ".2f",
                "labelFontSize": 17, "labelFlush": false, "labelPadding": 3,
                "tickSize": 9, "tickWidth": 1.6,
                "domain": false, "grid": false, "title": null
              }
            },
            "x2": {"datum": 1},
            "y": {
              "datum": 0.051, "type": "quantitative",
              "scale": {"type": "log", "domain": [0.051, 1], "range": [188, 12], "nice": false, "clamp": true},
              "axis": {
                "orient": "left", "offset": -54,
                "values": [0.1, 1],
                "labelExpr": "datum.value === 1 ? '10⁰' : '10⁻¹'",
                "labelOverlap": false, "labelFontSize": 17, "labelPadding": 2, "labelFlush": false,
                "tickSize": 10, "tickWidth": 1.6,
                "domain": false, "grid": false, "title": null
              }
            },
            "y2": {"datum": 1}
          }
        },
        {
          "data": {"values": [{}]},
          "mark": {"type": "rule", "color": "#b0b0b0", "strokeWidth": 1},
          "encoding": {
            "x": {"datum": 0.95, "type": "quantitative"},
            "y": {"datum": 0.051, "type": "quantitative"},
            "y2": {"datum": 1}
          }
        },
        {
          "data": {"values": [{}]},
          "mark": {"type": "rule", "color": "#b0b0b0", "strokeWidth": 1},
          "encoding": {
            "x": {"datum": 0.9, "type": "quantitative"},
            "x2": {"datum": 1},
            "y": {"datum": 0.1, "type": "quantitative"}
          }
        },
        {
          "transform": [{"filter": "datum.m === 'SEOBNRv4' && datum.ff >= 0.9 && datum.f >= 0.04"}],
          "mark": {"type": "line", "strokeWidth": 6.5, "opacity": 0.5, "strokeJoin": "round"},
          "encoding": {
            "x": {"field": "ff", "type": "quantitative"},
            "y": {"field": "f", "type": "quantitative"},
            "color": {"field": "c", "type": "nominal"},
            "order": {"field": "i", "type": "quantitative"}
          }
        },
        {
          "transform": [{"filter": "datum.m === 'PhenomD' && datum.ff >= 0.9 && datum.f >= 0.04"}],
          "mark": {"type": "line", "strokeWidth": 2.6, "strokeDash": [9, 4]},
          "encoding": {
            "x": {"field": "ff", "type": "quantitative"},
            "y": {"field": "f", "type": "quantitative"},
            "color": {"field": "c", "type": "nominal"},
            "order": {"field": "i", "type": "quantitative"}
          }
        },
        {
          "transform": [{"filter": "datum.m === 'PhenomP' && datum.ff >= 0.9 && datum.f >= 0.04"}],
          "mark": {"type": "line", "strokeWidth": 2.4},
          "encoding": {
            "x": {"field": "ff", "type": "quantitative"},
            "y": {"field": "f", "type": "quantitative"},
            "color": {"field": "c", "type": "nominal"},
            "order": {"field": "i", "type": "quantitative"}
          }
        }
      ]
    },
    {
      "data": {"values": [{}]},
      "mark": {"type": "rule", "opacity": 0},
      "encoding": {
        "y": {
          "datum": 0.5, "type": "quantitative",
          "scale": {"type": "log", "domain": [0.051, 1], "range": [188, 12], "nice": false, "clamp": true},
          "axis": {
            "orient": "left", "offset": -54,
            "values": [0.06,0.07,0.08,0.09,0.2,0.3,0.4,0.5,0.6,0.7,0.8,0.9],
            "labels": false, "tickSize": 5, "tickWidth": 1.1,
            "domain": false, "grid": false, "title": null
          }
        }
      }
    }
  ],
  "resolve": {"scale": {"x": "independent", "y": "independent"}}
}
